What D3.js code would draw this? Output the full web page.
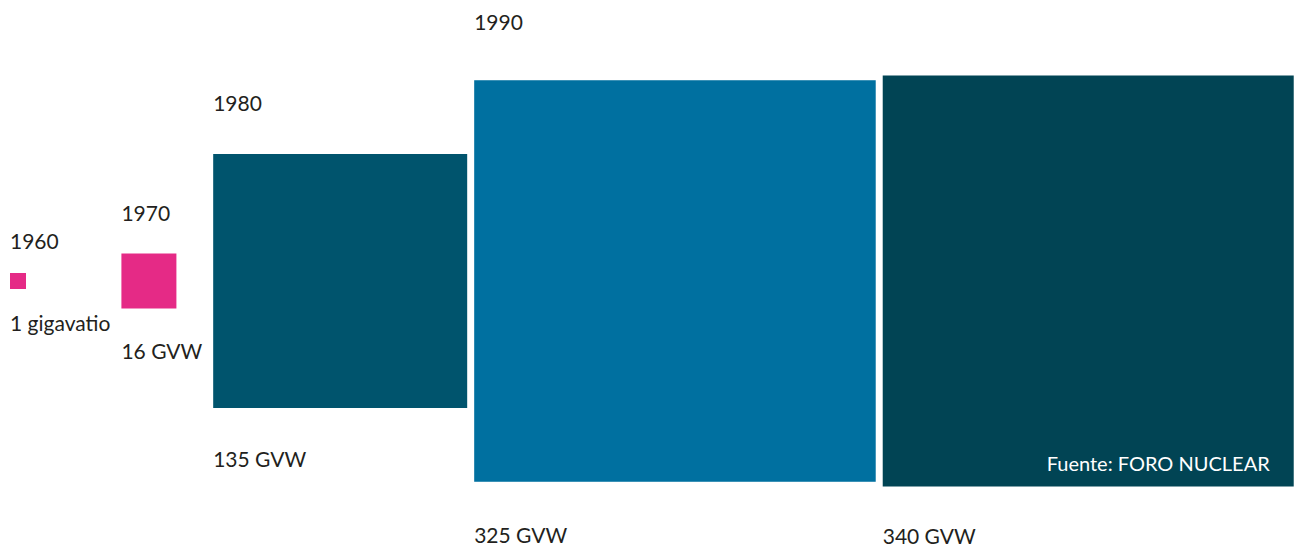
<!DOCTYPE html>
<html>
<head>
<meta charset="utf-8">
<script src="https://cdn.jsdelivr.net/npm/d3@7"></script>
<style>
  html, body { margin: 0; padding: 0; background: #fff; }
  svg { display: block; }
  text { font-family: Lato, "Open Sans", sans-serif; }
</style>
</head>
<body>
<svg id="chart" width="1295" height="546"></svg>
<script>
// ---- data ----
const years = ["1960", "1970", "1980", "1990", ""];
const capacityGW = [1, 16, 135, 325, 340];
const valueLabels = ["1 gigavatio", "16 GVW", "135 GVW", "325 GVW", "340 GVW"];
const colors = ["#E52A86", "#E52A86", "#00546D", "#0070A0", "#014454"];
const sourceLabel = "Fuente: FORO NUCLEAR";

// ---- layout ----
const centerY = 281;
const left = 10;
const svg = d3.select("#chart");

// side of square from capacity (area-based, calibrated to the reference)
const side = d3.scaleSqrt()
  .domain([0, 1, 16, 135, 340])
  .range([0, 16, 55, 254, 411]);

// distance of labels from the square edges, growing with square size
const topOffset = d3.scaleLinear()
  .domain([16, 55, 254, 402])
  .range([24, 33, 43, 50]);
const bottomOffset = d3.scaleLinear()
  .domain([16, 55, 254, 402, 411])
  .range([42, 50, 59, 61, 57]);

const labelColor = "#231F20";
const fontSize = 21;

let x = left;
capacityGW.forEach((v, i) => {
  const s = side(v);
  const top = centerY - s / 2;
  const bottom = centerY + s / 2;
  const g = svg.append("g");
  g.append("rect")
    .attr("x", x).attr("y", top)
    .attr("width", s).attr("height", s)
    .attr("fill", colors[i]);
  if (years[i]) {
    g.append("text")
      .attr("x", x).attr("y", top - topOffset(s))
      .attr("font-size", fontSize).attr("fill", labelColor)
      .text(years[i]);
  }
  const vl = g.append("text")
    .attr("x", x).attr("y", bottom + bottomOffset(s))
    .attr("font-size", fontSize).attr("fill", labelColor)
    .text(valueLabels[i]);
  const labelRight = x + vl.node().getComputedTextLength();
  if (i === capacityGW.length - 1) {
    svg.append("text")
      .attr("x", x + s - 24).attr("y", bottom - 16)
      .attr("text-anchor", "end")
      .attr("font-size", 20).attr("fill", "#ffffff")
      .text(sourceLabel);
  }
  x = Math.max(x + s + 7, labelRight + 11);
});
</script>
</body>
</html>
